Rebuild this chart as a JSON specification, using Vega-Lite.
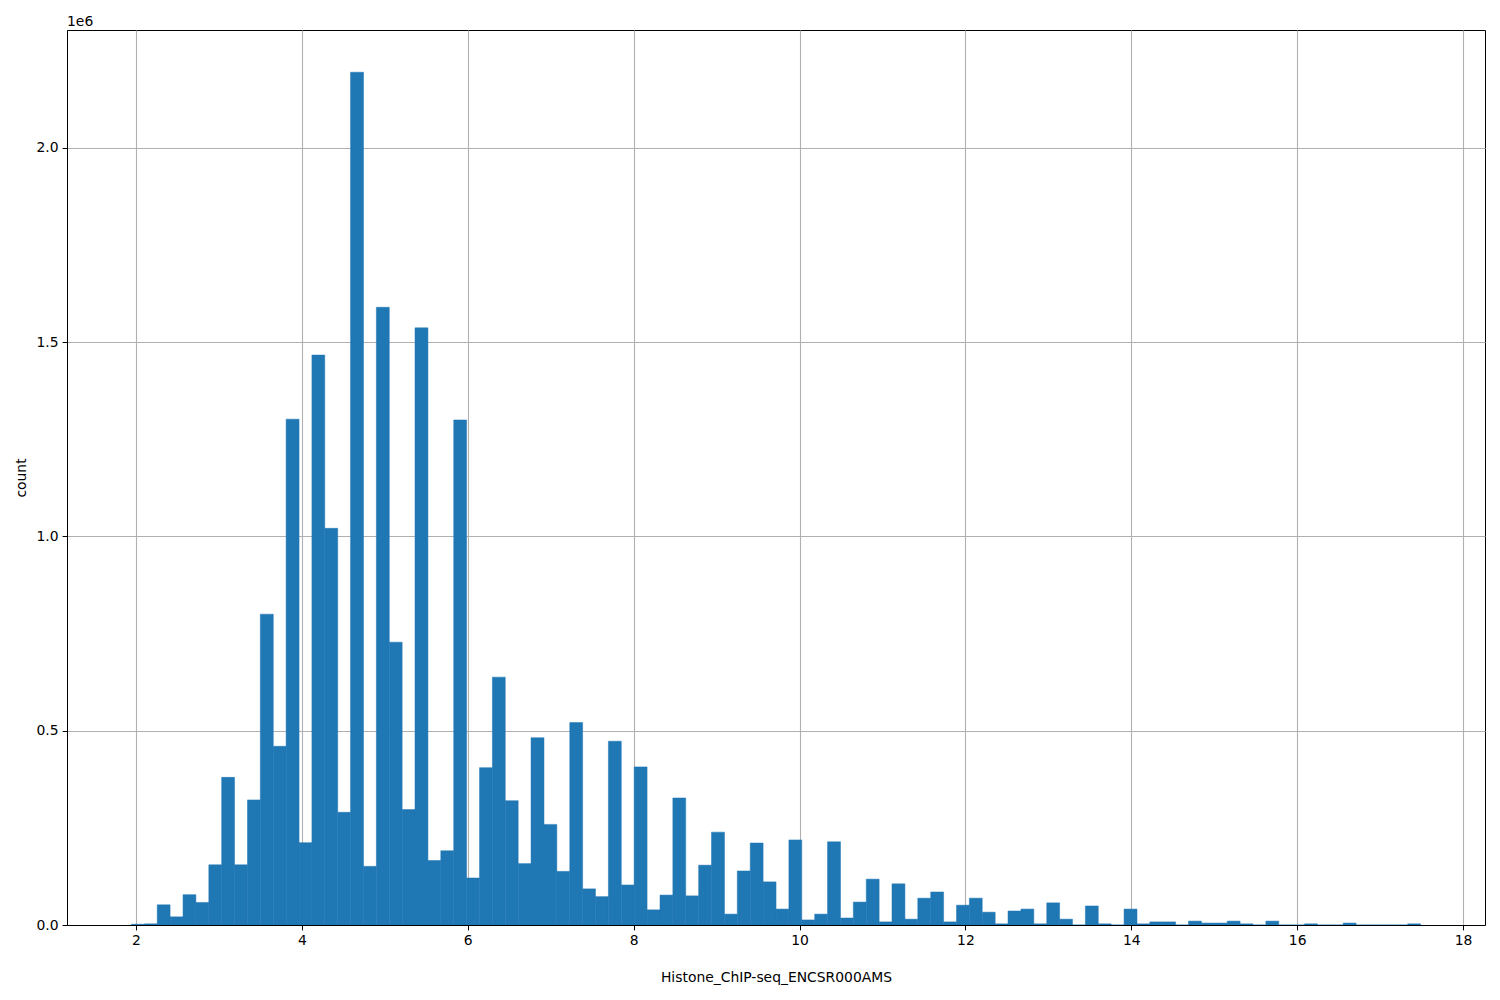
{
  "$schema": "https://vega.github.io/schema/vega-lite/v6.json",
  "autosize": "none",
  "width": 1418,
  "height": 895,
  "padding": {"left": 67, "top": 30, "right": 15, "bottom": 75},
  "background": "white",
  "title": {"text": "1e6", "anchor": "start", "frame": "group", "fontSize": 13.9, "font": "DejaVu Sans", "fontWeight": "normal", "color": "black", "offset": 1},
  "config": {
    "view": {"stroke": "black", "strokeWidth": 1},
    "axis": {
      "grid": true, "gridColor": "#b0b0b0", "gridWidth": 1.1,
      "domain": true, "domainColor": "black", "domainWidth": 1,
      "tickColor": "black", "tickSize": 4.9, "tickWidth": 1,
      "labelFont": "DejaVu Sans", "labelFontSize": 13.9, "labelColor": "black", "labelPadding": 4,
      "titleFont": "DejaVu Sans", "titleFontSize": 13.9, "titleFontWeight": "normal", "titleColor": "black",
      "zindex": 1
    }
  },
  "data": {"values": [
    {"start": 1.945, "end": 2.100, "count": 2000},
    {"start": 2.100, "end": 2.256, "count": 3000},
    {"start": 2.256, "end": 2.411, "count": 52000},
    {"start": 2.411, "end": 2.567, "count": 21000},
    {"start": 2.567, "end": 2.722, "count": 78000},
    {"start": 2.722, "end": 2.878, "count": 58000},
    {"start": 2.878, "end": 3.033, "count": 155000},
    {"start": 3.033, "end": 3.188, "count": 380000},
    {"start": 3.188, "end": 3.344, "count": 155000},
    {"start": 3.344, "end": 3.499, "count": 322000},
    {"start": 3.499, "end": 3.655, "count": 800000},
    {"start": 3.655, "end": 3.810, "count": 460000},
    {"start": 3.810, "end": 3.966, "count": 1302000},
    {"start": 3.966, "end": 4.121, "count": 212000},
    {"start": 4.121, "end": 4.276, "count": 1467000},
    {"start": 4.276, "end": 4.432, "count": 1021000},
    {"start": 4.432, "end": 4.587, "count": 290000},
    {"start": 4.587, "end": 4.743, "count": 2195000},
    {"start": 4.743, "end": 4.898, "count": 151000},
    {"start": 4.898, "end": 5.054, "count": 1590000},
    {"start": 5.054, "end": 5.209, "count": 728000},
    {"start": 5.209, "end": 5.364, "count": 297000},
    {"start": 5.364, "end": 5.520, "count": 1537000},
    {"start": 5.520, "end": 5.675, "count": 166000},
    {"start": 5.675, "end": 5.831, "count": 191000},
    {"start": 5.831, "end": 5.986, "count": 1300000},
    {"start": 5.986, "end": 6.142, "count": 121000},
    {"start": 6.142, "end": 6.297, "count": 405000},
    {"start": 6.297, "end": 6.452, "count": 638000},
    {"start": 6.452, "end": 6.608, "count": 320000},
    {"start": 6.608, "end": 6.763, "count": 158000},
    {"start": 6.763, "end": 6.919, "count": 482000},
    {"start": 6.919, "end": 7.074, "count": 259000},
    {"start": 7.074, "end": 7.230, "count": 138000},
    {"start": 7.230, "end": 7.385, "count": 521000},
    {"start": 7.385, "end": 7.540, "count": 93000},
    {"start": 7.540, "end": 7.696, "count": 73000},
    {"start": 7.696, "end": 7.851, "count": 473000},
    {"start": 7.851, "end": 8.007, "count": 103000},
    {"start": 8.007, "end": 8.162, "count": 407000},
    {"start": 8.162, "end": 8.318, "count": 39000},
    {"start": 8.318, "end": 8.473, "count": 77000},
    {"start": 8.473, "end": 8.628, "count": 327000},
    {"start": 8.628, "end": 8.784, "count": 75000},
    {"start": 8.784, "end": 8.939, "count": 154000},
    {"start": 8.939, "end": 9.095, "count": 239000},
    {"start": 9.095, "end": 9.250, "count": 28000},
    {"start": 9.250, "end": 9.406, "count": 139000},
    {"start": 9.406, "end": 9.561, "count": 211000},
    {"start": 9.561, "end": 9.717, "count": 111000},
    {"start": 9.717, "end": 9.872, "count": 41000},
    {"start": 9.872, "end": 10.027, "count": 219000},
    {"start": 10.027, "end": 10.183, "count": 13000},
    {"start": 10.183, "end": 10.338, "count": 28000},
    {"start": 10.338, "end": 10.494, "count": 214000},
    {"start": 10.494, "end": 10.649, "count": 18000},
    {"start": 10.649, "end": 10.805, "count": 59000},
    {"start": 10.805, "end": 10.960, "count": 118000},
    {"start": 10.960, "end": 11.115, "count": 8000},
    {"start": 11.115, "end": 11.271, "count": 106000},
    {"start": 11.271, "end": 11.426, "count": 15000},
    {"start": 11.426, "end": 11.582, "count": 69000},
    {"start": 11.582, "end": 11.737, "count": 85000},
    {"start": 11.737, "end": 11.893, "count": 8000},
    {"start": 11.893, "end": 12.048, "count": 51000},
    {"start": 12.048, "end": 12.203, "count": 69000},
    {"start": 12.203, "end": 12.359, "count": 33000},
    {"start": 12.359, "end": 12.514, "count": 3000},
    {"start": 12.514, "end": 12.670, "count": 36000},
    {"start": 12.670, "end": 12.825, "count": 41000},
    {"start": 12.825, "end": 12.981, "count": 3000},
    {"start": 12.981, "end": 13.136, "count": 57000},
    {"start": 13.136, "end": 13.291, "count": 15000},
    {"start": 13.291, "end": 13.447, "count": 0},
    {"start": 13.447, "end": 13.602, "count": 49000},
    {"start": 13.602, "end": 13.758, "count": 3000},
    {"start": 13.758, "end": 13.913, "count": 0},
    {"start": 13.913, "end": 14.069, "count": 41000},
    {"start": 14.069, "end": 14.224, "count": 3000},
    {"start": 14.224, "end": 14.379, "count": 8000},
    {"start": 14.379, "end": 14.535, "count": 8000},
    {"start": 14.535, "end": 14.690, "count": 0},
    {"start": 14.690, "end": 14.846, "count": 10000},
    {"start": 14.846, "end": 15.001, "count": 5000},
    {"start": 15.001, "end": 15.157, "count": 5000},
    {"start": 15.157, "end": 15.312, "count": 10000},
    {"start": 15.312, "end": 15.467, "count": 3000},
    {"start": 15.467, "end": 15.623, "count": 0},
    {"start": 15.623, "end": 15.778, "count": 10000},
    {"start": 15.778, "end": 15.934, "count": 0},
    {"start": 15.934, "end": 16.089, "count": 0},
    {"start": 16.089, "end": 16.245, "count": 3000},
    {"start": 16.245, "end": 16.400, "count": 0},
    {"start": 16.400, "end": 16.555, "count": 0},
    {"start": 16.555, "end": 16.711, "count": 5000},
    {"start": 16.711, "end": 16.866, "count": 0},
    {"start": 16.866, "end": 17.022, "count": 0},
    {"start": 17.022, "end": 17.177, "count": 0},
    {"start": 17.177, "end": 17.333, "count": 0},
    {"start": 17.333, "end": 17.488, "count": 3000}
  ]},
  "mark": {"type": "bar", "color": "#1f77b4", "stroke": "#1f77b4", "strokeWidth": 0.5, "clip": true},
  "encoding": {
    "x": {"field": "start", "type": "quantitative",
      "scale": {"domain": [1.168, 18.265], "nice": false, "zero": false},
      "axis": {"values": [2, 4, 6, 8, 10, 12, 14, 16, 18], "format": "d", "title": "Histone_ChIP-seq_ENCSR000AMS", "titlePadding": 23}},
    "x2": {"field": "end"},
    "y": {"field": "count", "type": "quantitative",
      "scale": {"domain": [0, 2303700], "nice": false},
      "axis": {"values": [0, 500000, 1000000, 1500000, 2000000], "labelExpr": "format(datum.value / 1000000, '.1f')", "title": "count", "titlePadding": 8}},
    "y2": {"datum": 0}
  }
}
